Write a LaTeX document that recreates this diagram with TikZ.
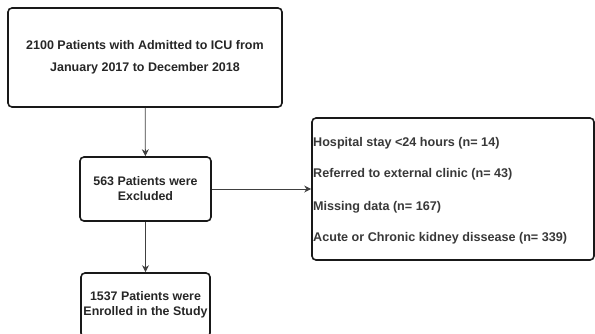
\documentclass[tikz,border=0pt]{standalone}
\usepackage{fontspec}
\setmainfont{Liberation Sans}
\usetikzlibrary{arrows.meta}
\begin{document}
\begin{tikzpicture}[x=1pt,y=-1pt,
  box/.style={draw=black!90,line width=1.6pt,rounded corners=4pt,inner sep=0pt,font=\bfseries\fontsize{12.5}{22}\selectfont,text=black!85,align=center},
  small/.style={font=\bfseries\fontsize{12.4}{15}\selectfont},
  item/.style={anchor=west,inner sep=0pt,font=\bfseries\fontsize{12.6}{14}\selectfont,text=black!78},
  arr/.style={draw=black!75,line width=0.8pt,-{Stealth[length=7pt,width=7pt]}}]
\useasboundingbox (0,0) rectangle (595,333);
\node[box,minimum width=274pt,minimum height=99pt] (adm) at (145,57.5) {2100 Patients with Admitted to ICU from\\January 2017 to December 2018};
\node[box,small,minimum width=131pt,minimum height=64pt] (exc) at (145.5,189) {563 Patients were\\Excluded};
\node[box,small,minimum width=129pt,minimum height=64pt] (enr) at (145.5,305) {1537 Patients were\\Enrolled in the Study};
\node[box,minimum width=282pt,minimum height=142pt] (rea) at (453,189) {};
\node[item] (r1) at (313,143) {Hospital stay <24 hours (n= 14)};
\node[item] (r2) at (313,174) {Referred to external clinic (n= 43)};
\node[item] (r3) at (313,207) {Missing data (n= 167)};
\node[item] (r4) at (313,238) {Acute or Chronic kidney dissease (n= 339)};
\draw[arr] (adm) -- (exc);
\draw[arr] (exc) -- (enr);
\draw[arr] (exc.east) -- (rea.west);
\end{tikzpicture}
\end{document}
